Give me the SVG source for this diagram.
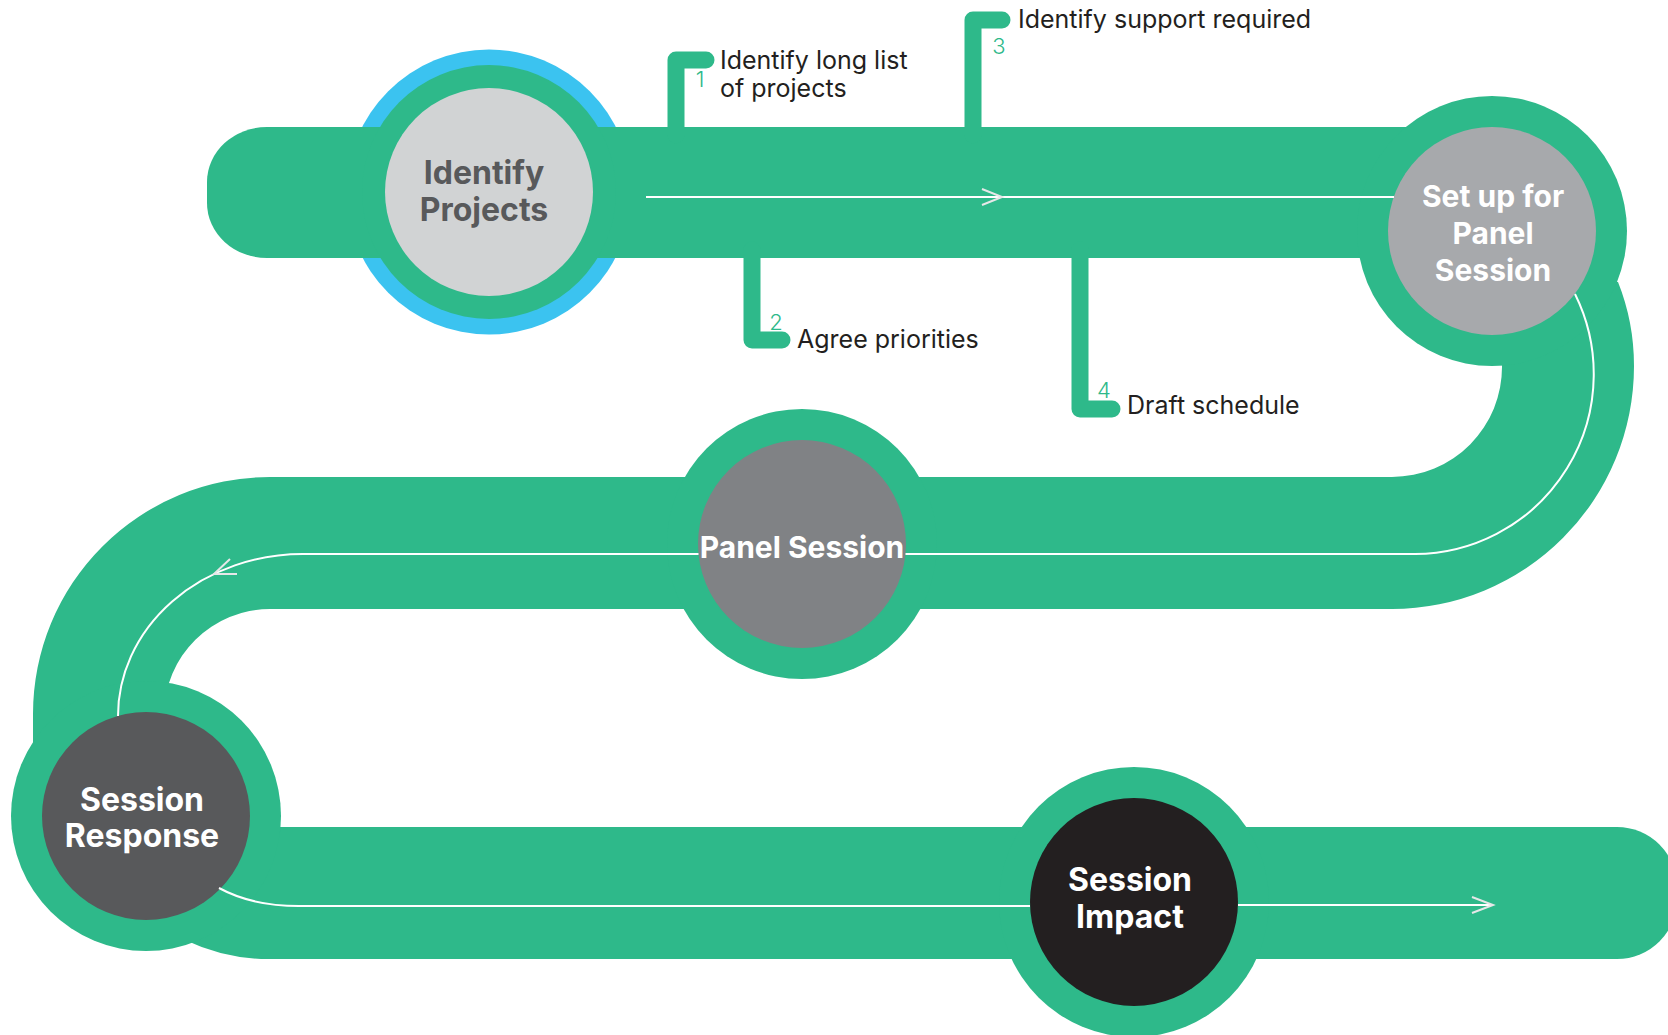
<svg xmlns="http://www.w3.org/2000/svg" width="1668" height="1035" viewBox="0 0 1668 1035">
<style>
.trk{fill:#2eb98a}
.ring{fill:#2eb98a}
.nt{font-family:Inter,"Liberation Sans",sans-serif;font-weight:700;font-size:30px;text-anchor:middle;fill:#fff}
.nt2{font-size:32px}
.lbl{font-family:Inter,"Open Sans","Liberation Sans",sans-serif;font-size:25px;fill:#231f20}
.num{font-family:Inter,"Liberation Sans",sans-serif;font-size:22px;font-weight:300;fill:#2eb98a;text-anchor:middle}
.stem{fill:none;stroke:#2eb98a;stroke-width:17;stroke-linecap:round;stroke-linejoin:round}
.wl{fill:none;stroke:#ffffff;stroke-width:2}
.chev{fill:none;stroke:#e6e7e8;stroke-width:2}
</style>
<rect width="1668" height="1035" fill="#ffffff"/>
<g id="track">
<path class="trk" d="M267 127 H1412 V258 H267 A60 55 0 0 1 207 203 V182 A60 55 0 0 1 267 127 Z"/>
<path class="trk" d="M1500 282 L1618 282 Q1634 322 1634 366 A242 243 0 0 1 1392 609 H802 V477 H1392 A110 110 0 0 0 1502 366 Z"/>
<path class="trk" d="M802 477 H270 A237 237 0 0 0 33 714 V790 H146 L164 714 A106 106 0 0 1 270 609 H802 Z"/>
<path class="trk" d="M185 827 H1617 A60 60 0 0 1 1677 887 V899 A60 60 0 0 1 1617 959 H268 Q225 959 185 940 Z"/>
</g>
<g id="step-1">
<path class="stem" d="M676 135 V60 H706"/>
<text class="num" x="700" y="87">1</text>
<text class="lbl" x="720" y="69">Identify long list</text>
<text class="lbl" x="720" y="97">of projects</text>
</g>
<g id="step-2">
<path class="stem" d="M752 250 V340 H782"/>
<text class="num" x="776" y="330">2</text>
<text class="lbl" x="797" y="348">Agree priorities</text>
</g>
<g id="step-3">
<path class="stem" d="M973 135 V20 H1002"/>
<text class="num" x="999" y="54">3</text>
<text class="lbl" x="1018" y="28">Identify support required</text>
</g>
<g id="step-4">
<path class="stem" d="M1080 250 V409 H1112"/>
<text class="num" x="1104" y="398">4</text>
<text class="lbl" x="1127" y="414">Draft schedule</text>
</g>
<g id="node-identify">
<circle cx="489" cy="192" r="142.5" fill="#3bc3f0"/>
<rect class="trk" x="340" y="127" width="300" height="131"/>
<circle class="ring" cx="489" cy="192" r="127"/>
<circle cx="489" cy="192" r="104" fill="#d1d3d4"/>
<text class="nt nt2" x="484" y="184" style="fill:#58595b">Identify</text>
<text class="nt nt2" x="484" y="221" style="fill:#58595b">Projects</text>
</g>
<g id="node-setup">
<circle class="ring" cx="1492" cy="231" r="135"/>
<circle cx="1492" cy="231" r="104" fill="#a7a9ac"/>
<text class="nt" x="1493" y="207">Set up for</text>
<text class="nt" x="1493" y="244">Panel</text>
<text class="nt" x="1493" y="281">Session</text>
</g>
<g id="node-panel">
<circle class="ring" cx="802" cy="544" r="135"/>
<circle cx="802" cy="544" r="104" fill="#808285"/>
<text class="nt" x="802" y="558">Panel Session</text>
</g>
<g id="node-response">
<circle class="ring" cx="146" cy="816" r="135"/>
<circle cx="146" cy="816" r="104" fill="#58595b"/>
<text class="nt nt2" x="142" y="811">Session</text>
<text class="nt nt2" x="142" y="847">Response</text>
</g>
<g id="node-impact">
<circle class="ring" cx="1134" cy="902" r="135"/>
<circle cx="1134" cy="902" r="104" fill="#231f20"/>
<text class="nt nt2" x="1130" y="891">Session</text>
<text class="nt nt2" x="1130" y="928">Impact</text>
</g>
<g id="connectors">
<path class="wl" d="M646 197 H1394"/>
<path class="chev" d="M982 189 L1002 197 L982 205"/>
<path class="wl" d="M1575 294 A180 180 0 0 1 1415 554 H905.5"/>
<path class="wl" d="M698.5 554 H303 A185 162 0 0 0 118 716"/>
<path class="chev" d="M230 559 L214 574 L237 574"/>
<path class="wl" d="M219 888 Q252 906 299 906 H1030"/>
<path class="wl" d="M1238 905 H1493"/>
<path class="chev" d="M1472 897 L1493 905 L1472 913"/>
</g>
</svg>
